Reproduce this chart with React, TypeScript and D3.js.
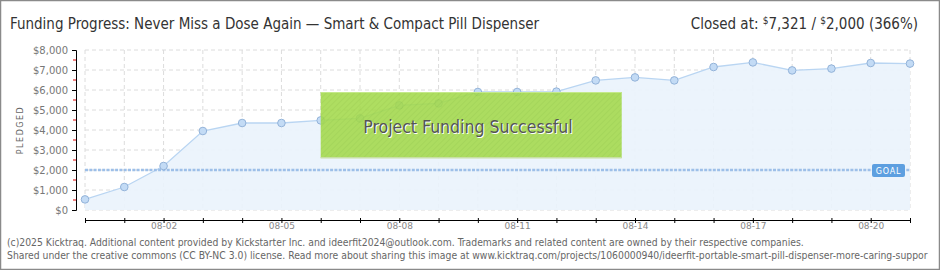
import * as d3 from "d3";
import { useEffect, useRef } from "react";

const dates = [
  "2025-07-31", "2025-08-01", "2025-08-02", "2025-08-03", "2025-08-04", "2025-08-05",
  "2025-08-06", "2025-08-07", "2025-08-08", "2025-08-09", "2025-08-10", "2025-08-11",
  "2025-08-12", "2025-08-13", "2025-08-14", "2025-08-15", "2025-08-16", "2025-08-17",
  "2025-08-18", "2025-08-19", "2025-08-20", "2025-08-21",
];
const pledged = [
  530, 1150, 2200, 3950, 4350, 4350, 4480, 4580, 5230, 5330, 5900, 5900,
  5920, 6480, 6630, 6480, 7150, 7380, 6980, 7070, 7350, 7321,
];
const tickLabels = ["08-02", "08-05", "08-08", "08-11", "08-14", "08-17", "08-20"];
const yTicks = [0, 1000, 2000, 3000, 4000, 5000, 6000, 7000, 8000];
const goal = 2000;

const title = "Funding Progress: Never Miss a Dose Again \u2014 Smart & Compact Pill Dispenser";
const footer1 =
  "(c)2025 Kicktraq. Additional content provided by Kickstarter Inc. and ideerfit2024@outlook.com. Trademarks and related content are owned by their respective companies.";
const footer2 =
  "Shared under the creative commons (CC BY-NC 3.0) license. Read more about sharing this image at www.kicktraq.com/projects/1060000940/ideerfit-portable-smart-pill-dispenser-more-caring-suppor";

const font = "'DejaVu Sans Condensed', sans-serif";

interface Point {
  date: Date;
  value: number;
}

const App = () => {
  const svgRef = useRef<SVGSVGElement | null>(null);

  useEffect(() => {
    const parse = d3.utcParse("%Y-%m-%d");
    const data: Point[] = dates.map((d, i) => ({ date: parse(d) as Date, value: pledged[i] }));

    const svg = d3.select(svgRef.current);
    svg.selectAll("*").remove();

    const x = d3
      .scaleUtc()
      .domain(d3.extent(data, (d) => d.date) as [Date, Date])
      .range([85, 910]);
    const y = d3.scaleLinear().domain([0, 8000]).range([210, 50]);

    // frame
    svg.append("rect").attr("x", 0.5).attr("y", 0.5).attr("width", 939).attr("height", 269)
      .attr("fill", "#fff").attr("stroke", "#8a8a8a").attr("stroke-width", 1.5);

    // title
    svg.append("text").attr("x", 10).attr("y", 29).attr("font-family", font).attr("font-size", 15)
      .attr("fill", "#333").text(title);
    const closed = svg.append("text").attr("x", 918).attr("y", 29).attr("text-anchor", "end")
      .attr("font-family", font).attr("font-size", 15).attr("fill", "#333");
    closed.append("tspan").text("Closed at:  ");
    closed.append("tspan").attr("font-size", 10).attr("dy", -5).text("$");
    closed.append("tspan").attr("dy", 5).text("7,321 /  ");
    closed.append("tspan").attr("font-size", 10).attr("dy", -5).text("$");
    closed.append("tspan").attr("dy", 5).text("2,000 (366%)");

    // grid
    const days = data.map((d) => d.date);
    svg.append("g").selectAll("line").data(days).join("line")
      .attr("x1", (d) => x(d)).attr("x2", (d) => x(d)).attr("y1", 50).attr("y2", 210)
      .attr("stroke", "#dcdcdc").attr("stroke-dasharray", "4,3");
    svg.append("g").selectAll("line").data(yTicks).join("line")
      .attr("x1", 85).attr("x2", 910).attr("y1", (d) => y(d)).attr("y2", (d) => y(d))
      .attr("stroke", "#dcdcdc").attr("stroke-dasharray", "4,3");

    // area + line
    const area = d3.area<Point>().x((d) => x(d.date)).y0(y(0)).y1((d) => y(d.value));
    svg.append("path").datum(data).attr("d", area).attr("fill", "#eaf3fc").attr("fill-opacity", 0.9);
    const line = d3.line<Point>().x((d) => x(d.date)).y((d) => y(d.value));
    svg.append("path").datum(data).attr("d", line).attr("fill", "none")
      .attr("stroke", "#b9d5f2").attr("stroke-width", 1.3);

    // goal line
    svg.append("line").attr("x1", 85).attr("x2", 910).attr("y1", y(goal)).attr("y2", y(goal))
      .attr("stroke", "#9dbfe8").attr("stroke-width", 2.5).attr("stroke-dasharray", "3,1.3");

    // points
    svg.append("g").selectAll("circle").data(data).join("circle")
      .attr("cx", (d) => x(d.date)).attr("cy", (d) => y(d.value)).attr("r", 3.8)
      .attr("fill", "#c3dbf5").attr("stroke", "#93b3d9").attr("stroke-width", 1);

    // success box
    const defs = svg.append("defs");
    const pat = defs.append("pattern").attr("id", "hatch").attr("patternUnits", "userSpaceOnUse")
      .attr("width", 4).attr("height", 4).attr("patternTransform", "rotate(45)");
    pat.append("rect").attr("width", 4).attr("height", 4).attr("fill", "#a3d94b");
    pat.append("line").attr("x1", 0).attr("y1", 0).attr("x2", 0).attr("y2", 4)
      .attr("stroke", "#98cf43").attr("stroke-width", 1.5);
    const bx0 = x(days[6]);
    svg.append("rect").attr("x", bx0).attr("y", 92).attr("width", 301).attr("height", 66)
      .attr("fill", "url(#hatch)").attr("opacity", 0.88);
    svg.append("rect").attr("x", bx0).attr("y", 92).attr("width", 301).attr("height", 1)
      .attr("fill", "#c4e98a");
    svg.append("rect").attr("x", bx0).attr("y", 157).attr("width", 301).attr("height", 1.5)
      .attr("fill", "#c8dfa4");
    const bt = svg.append("g").attr("font-family", font).attr("font-size", 17.5).attr("text-anchor", "middle");
    bt.append("text").attr("x", 469).attr("y", 134).attr("fill", "#fff").text("Project Funding Successful");
    bt.append("text").attr("x", 468).attr("y", 133).attr("fill", "#555").text("Project Funding Successful");

    // goal tag
    svg.append("rect").attr("x", 872).attr("y", 164).attr("width", 33).attr("height", 13).attr("rx", 2)
      .attr("fill", "#5d9fe0");
    svg.append("text").attr("x", 888.5).attr("y", 174).attr("text-anchor", "middle")
      .attr("font-family", "'DejaVu Sans', sans-serif").attr("font-size", 8).attr("letter-spacing", 0.8)
      .attr("fill", "#fff").text("GOAL");

    // y axis
    const yAxis = d3.axisLeft(y).tickValues(yTicks).tickSize(4)
      .tickFormat((d) => "$" + d3.format(",")(d as number));
    const gY = svg.append("g").attr("transform", "translate(76,0)").call(yAxis);
    gY.select(".domain").attr("stroke", "#000");
    gY.selectAll("text").attr("font-family", "'DejaVu Sans', sans-serif").attr("font-size", 10)
      .attr("fill", "#777").attr("x", -8);
    svg.append("g").selectAll("line").data(d3.range(500, 8000, 1000)).join("line")
      .attr("x1", 73).attr("x2", 76).attr("y1", (d) => y(d)).attr("y2", (d) => y(d))
      .attr("stroke", "#e00000");

    svg.append("text").attr("transform", "translate(23,130) rotate(-90)").attr("text-anchor", "middle")
      .attr("font-family", "'DejaVu Sans', sans-serif").attr("font-size", 8).attr("letter-spacing", 1.5)
      .attr("fill", "#666").text("PLEDGED");

    // x axis
    const labelled = new Set(tickLabels);
    const fmt = d3.utcFormat("%m-%d");
    const xAxis = d3.axisBottom(x).tickValues(days).tickSize(3).tickSizeOuter(0)
      .tickFormat((d) => (labelled.has(fmt(d as Date)) ? fmt(d as Date) : ""));
    const gX = svg.append("g").attr("transform", "translate(0,220)").call(xAxis);
    gX.select(".domain").attr("stroke", "#000");
    gX.selectAll(".tick line").attr("y1", -2).attr("y2", 3);
    gX.selectAll("text").attr("font-family", "'DejaVu Sans', sans-serif").attr("font-size", 9)
      .attr("fill", "#888").attr("y", 3);

    // footer
    const ft = svg.append("g").attr("font-family", font).attr("font-size", 10.3).attr("fill", "#666");
    ft.append("text").attr("x", 7).attr("y", 246).text(footer1);
    ft.append("text").attr("x", 7).attr("y", 259).text(footer2);
  }, []);

  return (
    <div style={{ position: "absolute", left: 0, top: 0 }}>
      <svg ref={svgRef} width={940} height={270} style={{ display: "block" }}></svg>
    </div>
  );
};

export default App;
